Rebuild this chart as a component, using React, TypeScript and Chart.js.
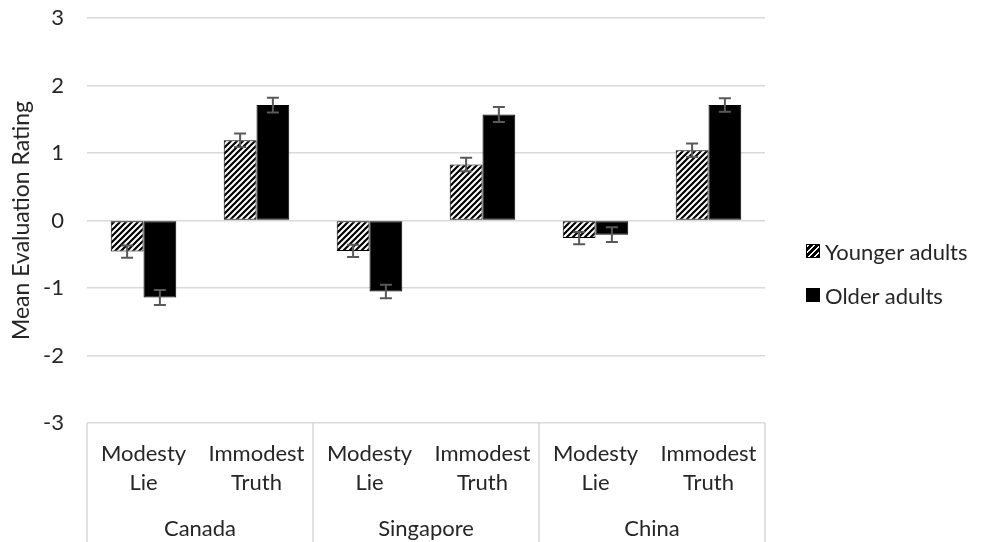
import React, { useEffect, useRef } from "react";
import { Chart, registerables } from "chart.js";

Chart.register(...registerables);

// Groups and conditions along the x axis
const countries = ["Canada", "Singapore", "China"];
const conditions = [
  ["Modesty", "Lie"],
  ["Immodest", "Truth"],
];
const seriesNames = ["Younger adults", "Older adults"];

// Mean ratings and standard errors, in Canada/Singapore/China order, Lie then Truth
const youngerMeans = [-0.46, 1.19, -0.45, 0.83, -0.26, 1.04];
const youngerErrors = [0.09, 0.1, 0.09, 0.1, 0.09, 0.1];
const olderMeans = [-1.14, 1.71, -1.05, 1.57, -0.21, 1.71];
const olderErrors = [0.11, 0.11, 0.1, 0.11, 0.11, 0.1];

const yTicks = [-3, -2, -1, 0, 1, 2, 3];
const yTitle = "Mean Evaluation Rating";

const FONT = "Lato, 'Open Sans', sans-serif";
const TEXT = "#262626";
const GRID = "#d9d9d9";

function makeHatch(ctx: CanvasRenderingContext2D): CanvasPattern | string {
  const size = 6;
  const tile = document.createElement("canvas");
  tile.width = size;
  tile.height = size;
  const g = tile.getContext("2d");
  if (!g) return "#888";
  g.fillStyle = "#ffffff";
  g.fillRect(0, 0, size, size);
  g.strokeStyle = "#000000";
  g.lineWidth = 2.2;
  g.beginPath();
  g.moveTo(0, size);
  g.lineTo(size, 0);
  g.moveTo(-size / 2, size / 2);
  g.lineTo(size / 2, -size / 2);
  g.moveTo(size / 2, size * 1.5);
  g.lineTo(size * 1.5, size / 2);
  g.stroke();
  return ctx.createPattern(tile, "repeat") || "#888";
}

// Draws ± error whiskers on each bar
const errorBarPlugin = {
  id: "errorBars",
  afterDatasetsDraw(chart: any, _args: any, opts: any) {
    const { ctx } = chart;
    const y = chart.scales.y;
    chart.data.datasets.forEach((ds: any, di: number) => {
      const errs: number[] = opts.errors[di];
      const meta = chart.getDatasetMeta(di);
      meta.data.forEach((bar: any, i: number) => {
        const v = ds.data[i] as number;
        const e = errs[i];
        const top = y.getPixelForValue(v + e);
        const bot = y.getPixelForValue(v - e);
        ctx.save();
        ctx.strokeStyle = opts.color;
        ctx.lineWidth = 2;
        ctx.beginPath();
        ctx.moveTo(bar.x, top);
        ctx.lineTo(bar.x, bot);
        ctx.moveTo(bar.x - opts.cap, top);
        ctx.lineTo(bar.x + opts.cap, top);
        ctx.moveTo(bar.x - opts.cap, bot);
        ctx.lineTo(bar.x + opts.cap, bot);
        ctx.stroke();
        ctx.restore();
      });
    });
  },
};

// Vertical separators between the country groups below the plot
const groupDividerPlugin = {
  id: "groupDividers",
  afterDraw(chart: any, _args: any, opts: any) {
    const { ctx, chartArea } = chart;
    const x = chart.scales.x;
    const n = chart.data.labels.length;
    ctx.save();
    ctx.strokeStyle = opts.color;
    ctx.lineWidth = 1.5;
    ctx.beginPath();
    for (let i = 0; i <= n; i += opts.groupSize) {
      const px = x.getPixelForValue(i - 0.5);
      ctx.moveTo(px, chartArea.bottom);
      ctx.lineTo(px, chart.height);
    }
    ctx.stroke();
    ctx.restore();
  },
};

function LegendItem({ label, hatched }: { label: string; hatched: boolean }) {
  return (
    <div style={{ display: "flex", alignItems: "center", height: 30 }}>
      <div
        style={{
          width: 12,
          height: 12,
          border: "1px solid #000",
          background: hatched
            ? "repeating-linear-gradient(-45deg, #000 0px, #000 2.4px, #fff 2.4px, #fff 4.2px)"
            : "#000",
          marginRight: 5,
        }}
      />
      <span style={{ fontFamily: FONT, fontSize: 22, color: TEXT }}>{label}</span>
    </div>
  );
}

export default function App() {
  const canvasRef = useRef<HTMLCanvasElement | null>(null);

  useEffect(() => {
    const canvas = canvasRef.current;
    if (!canvas) return;
    const ctx = canvas.getContext("2d");
    if (!ctx) return;
    const hatch = makeHatch(ctx);
    const labels = countries.flatMap(() => conditions);

    const tickFont = { family: FONT, size: 22, lineHeight: 1.32 };

    const chart = new Chart(ctx, {
      type: "bar",
      data: {
        labels,
        datasets: [
          {
            label: seriesNames[0],
            data: youngerMeans,
            backgroundColor: hatch as any,
            borderColor: "#000000",
            borderWidth: 1,
            borderSkipped: false,
          },
          {
            label: seriesNames[1],
            data: olderMeans,
            backgroundColor: "#000000",
            borderColor: "#000000",
            borderWidth: 1,
            borderSkipped: false,
          },
        ],
      },
      options: {
        responsive: false,
        animation: false,
        events: [],
        datasets: { bar: { categoryPercentage: 0.58, barPercentage: 1 } },
        layout: { padding: { top: 18, right: 221, bottom: 0, left: 0 } },
        plugins: {
          legend: { display: false },
          tooltip: { enabled: false },
          errorBars: { errors: [youngerErrors, olderErrors], color: "#595959", cap: 6 },
          groupDividers: { groupSize: conditions.length, color: GRID },
        } as any,
        scales: {
          x: {
            type: "category",
            offset: true,
            weight: 0,
            grid: { display: false, drawTicks: false },
            border: { display: false },
            ticks: {
              color: TEXT,
              font: tickFont,
              padding: 16,
              maxRotation: 0,
              autoSkip: false,
            },
            afterFit: (s: any) => {
              s.height = 74;
            },
          },
          x2: {
            type: "category",
            axis: "x",
            labels: countries,
            offset: true,
            position: "bottom",
            weight: 1,
            grid: { display: false, drawTicks: false },
            border: { display: false },
            ticks: { color: TEXT, font: tickFont, padding: 17, maxRotation: 0 },
            afterFit: (s: any) => {
              s.height = 45;
            },
          },
          y: {
            min: yTicks[0],
            max: yTicks[yTicks.length - 1],
            ticks: { stepSize: 1, color: TEXT, font: tickFont, padding: 0 },
            grid: {
              color: GRID,
              lineWidth: 1.5,
              drawTicks: true,
              tickLength: 23,
              tickColor: "rgba(0,0,0,0)",
            },
            border: { display: false },
            title: {
              display: true,
              text: yTitle,
              color: TEXT,
              font: { family: FONT, size: 23, lineHeight: 1.2 },
              padding: { top: 8, bottom: 0 },
            },
            afterFit: (s: any) => {
              s.width = 87;
            },
          },
        } as any,
      },
      plugins: [errorBarPlugin, groupDividerPlugin],
    });

    return () => chart.destroy();
  }, []);

  return (
    <div
      style={{
        position: "fixed",
        left: 0,
        top: 0,
        width: 986,
        height: 542,
        background: "#ffffff",
      }}
    >
      <canvas ref={canvasRef} width={986} height={542} style={{ display: "block" }} />
      <div style={{ position: "absolute", left: 806, top: 236 }}>
        <LegendItem label={seriesNames[0]} hatched={true} />
        <div style={{ height: 14 }} />
        <LegendItem label={seriesNames[1]} hatched={false} />
      </div>
    </div>
  );
}
